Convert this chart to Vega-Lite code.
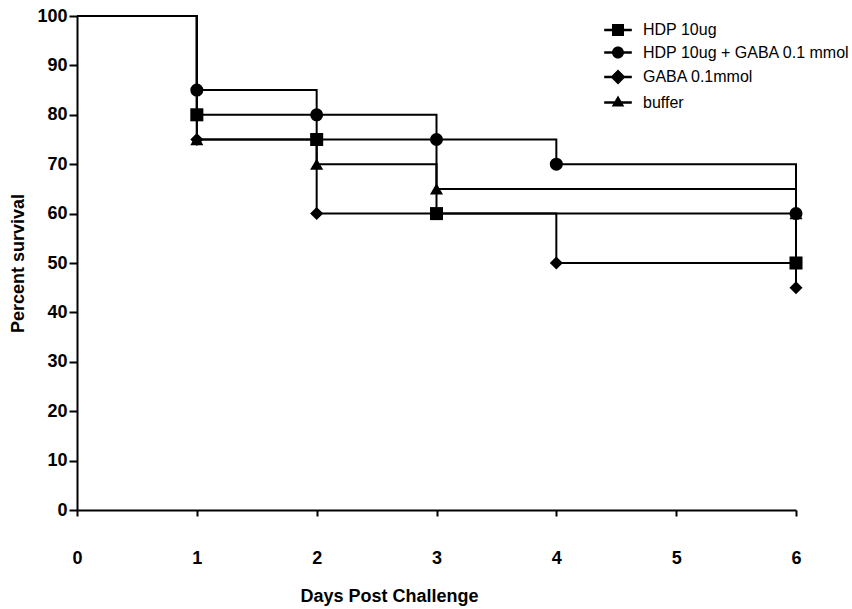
{
  "$schema": "https://vega.github.io/schema/vega-lite/v6.json",
  "width": 719,
  "height": 494,
  "autosize": {"type": "none"},
  "padding": {"left": 77, "top": 16, "right": 56, "bottom": 99},
  "background": "white",
  "config": {
    "view": {"stroke": null},
    "font": "Liberation Sans",
    "axis": {
      "grid": false,
      "domainColor": "black",
      "domainWidth": 2,
      "tickColor": "black",
      "tickWidth": 2,
      "labelColor": "black",
      "titleColor": "black",
      "labelFont": "Liberation Sans",
      "titleFont": "Liberation Sans",
      "labelFontWeight": "bold",
      "titleFontWeight": "bold",
      "labelFontSize": 18,
      "titleFontSize": 18
    }
  },
  "data": {
    "values": [
      {"series": "HDP 10ug", "day": 0, "survival": 100},
      {"series": "HDP 10ug", "day": 1, "survival": 80},
      {"series": "HDP 10ug", "day": 2, "survival": 75},
      {"series": "HDP 10ug", "day": 3, "survival": 60},
      {"series": "HDP 10ug", "day": 6, "survival": 50},
      {"series": "buffer", "day": 0, "survival": 100},
      {"series": "buffer", "day": 1, "survival": 75},
      {"series": "buffer", "day": 2, "survival": 70},
      {"series": "buffer", "day": 3, "survival": 65},
      {"series": "buffer", "day": 6, "survival": 60},
      {"series": "GABA 0.1mmol", "day": 0, "survival": 100},
      {"series": "GABA 0.1mmol", "day": 1, "survival": 75},
      {"series": "GABA 0.1mmol", "day": 2, "survival": 60},
      {"series": "GABA 0.1mmol", "day": 4, "survival": 50},
      {"series": "GABA 0.1mmol", "day": 6, "survival": 45},
      {"series": "HDP 10ug + GABA 0.1 mmol", "day": 0, "survival": 100},
      {"series": "HDP 10ug + GABA 0.1 mmol", "day": 1, "survival": 85},
      {"series": "HDP 10ug + GABA 0.1 mmol", "day": 2, "survival": 80},
      {"series": "HDP 10ug + GABA 0.1 mmol", "day": 3, "survival": 75},
      {"series": "HDP 10ug + GABA 0.1 mmol", "day": 4, "survival": 70},
      {"series": "HDP 10ug + GABA 0.1 mmol", "day": 6, "survival": 60}
    ]
  },
  "encoding": {
    "x": {
      "field": "day",
      "type": "quantitative",
      "scale": {"domain": [0, 6], "nice": false, "zero": false},
      "axis": {
        "values": [0, 1, 2, 3, 4, 5, 6],
        "format": "d",
        "tickSize": 6,
        "labelPadding": 33,
        "labelFlush": false,
        "title": "Days Post Challenge",
        "titlePadding": 20,
        "titleX": 312,
        "titleAlign": "center"
      }
    },
    "y": {
      "field": "survival",
      "type": "quantitative",
      "scale": {"domain": [0, 100], "nice": false},
      "axis": {
        "values": [0, 10, 20, 30, 40, 50, 60, 70, 80, 90, 100],
        "tickSize": 8,
        "labelPadding": 2,
        "labelFlush": false,
        "title": "Percent survival",
        "titlePadding": 9
      }
    }
  },
  "layer": [
    {
      "mark": {"type": "line", "interpolate": "step-after", "color": "black", "strokeWidth": 2},
      "encoding": {"detail": {"field": "series", "type": "nominal"}}
    },
    {
      "transform": [{"filter": "datum.day > 0"}],
      "mark": {"type": "point", "filled": true, "color": "black", "opacity": 1, "size": 170},
      "encoding": {
        "shape": {
          "field": "series",
          "type": "nominal",
          "scale": {
            "domain": ["HDP 10ug", "HDP 10ug + GABA 0.1 mmol", "GABA 0.1mmol", "buffer"],
            "range": ["square", "circle", "diamond", "triangle-up"]
          },
          "legend": null
        }
      }
    },
    {
      "transform": [{"filter": "datum.day < 0"}],
      "mark": {"type": "point", "filled": true, "color": "black", "opacity": 1, "size": 144},
      "encoding": {
        "shape": {
          "field": "series",
          "type": "nominal",
          "scale": {
            "domain": ["HDP 10ug", "HDP 10ug + GABA 0.1 mmol", "GABA 0.1mmol", "buffer"],
            "range": [
              "M-2.3,-0.2H2.3V0.2H-2.3ZM-1,-1H1V1H-1Z",
              "M-2.3,-0.2H2.3V0.2H-2.3ZM1,0A1,1,0,1,1,-1,0A1,1,0,1,1,1,0Z",
              "M-2.3,-0.2H2.3V0.2H-2.3ZM0,-1.25L1.25,0L0,1.25L-1.25,0Z",
              "M-2.3,-0.2H2.3V0.2H-2.3ZM0,-1.15L1.05,0.65H-1.05Z"
            ]
          },
          "legend": {
            "title": null,
            "orient": "none",
            "legendX": 533,
            "legendY": 6,
            "symbolSize": 144,
            "symbolFillColor": "black",
            "symbolOpacity": 1,
            "labelOffset": 17,
            "labelFontSize": 16,
            "labelFont": "Liberation Sans",
            "labelColor": "black",
            "labelLimit": 400,
            "rowPadding": 4.5
          }
        }
      }
    }
  ],
  "resolve": {"scale": {"shape": "independent"}, "legend": {"shape": "independent"}}
}
